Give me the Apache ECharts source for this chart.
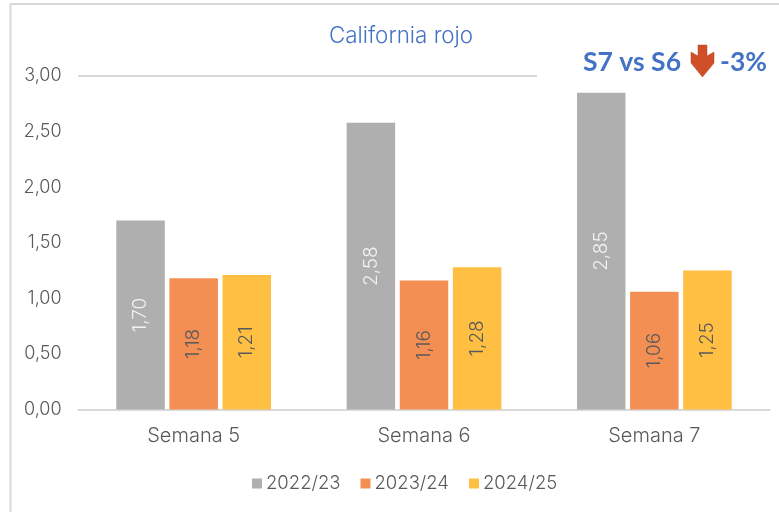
<!DOCTYPE html>
<html><head><meta charset="utf-8">
<style>html,body{margin:0;padding:0;background:#fff}#c{width:779px;height:512px}</style>
<script src="https://cdn.jsdelivr.net/npm/echarts@6/dist/echarts.min.js"></script>
</head><body><div id="c"></div>
<script>
const categories = ['Semana 5','Semana 6','Semana 7'];
const seriesNames = ['2022/23','2023/24','2024/25'];
const values2223 = [1.70,2.58,2.85];
const values2324 = [1.18,1.16,1.06];
const values2425 = [1.21,1.28,1.25];
const colors = ['#afafaf','#f38f53','#ffbf43'];
const labelColors = ['#f2f2f2','#595959','#595959'];
const FONT = 'Inter';
const HEAD = 'Lato';
const fmt = v => v.toFixed(2).replace('.',',');
const chart = echarts.init(document.getElementById('c'),null,{renderer:'canvas'});
const mk = (i,d)=>({
  name:seriesNames[i],type:'bar',data:d,barWidth:48.5,barGap:'9.5%',
  itemStyle:{color:colors[i]},
  label:{show:true,position:'inside',rotate:90,formatter:p=>fmt(p.value),color:labelColors[i],fontSize:19,fontFamily:FONT,fontWeight:300}
});
chart.setOption({
  animation:false,backgroundColor:'#fff',
  grid:{left:78.5,right:9.5,top:76,bottom:102.5,containLabel:false},
  legend:{bottom:14,left:247,itemWidth:10,itemHeight:10,itemGap:20,icon:'rect',
    textStyle:{color:'#595959',fontSize:18.5,fontFamily:FONT,fontWeight:300,padding:[0,0,0,-1]},data:seriesNames},
  xAxis:{type:'category',data:categories,axisTick:{show:false},
    axisLine:{lineStyle:{color:'#d9d9d9',width:2}},
    axisLabel:{color:'#595959',fontSize:20,fontFamily:FONT,fontWeight:300,margin:16}},
  yAxis:{type:'value',min:0,max:3,interval:0.5,axisLine:{show:false},axisTick:{show:false},splitLine:{show:false},
    axisLabel:{formatter:v=>fmt(v),color:'#595959',fontSize:18,fontFamily:FONT,fontWeight:300,margin:17,padding:[1,0,0,0]}},
  series:[mk(0,values2223),mk(1,values2324),mk(2,values2425)],
  graphic:[
    {type:'line',silent:true,shape:{x1:10.5,y1:4,x2:10.5,y2:512},style:{stroke:'#d9d9d9',lineWidth:2}},
    {type:'line',silent:true,shape:{x1:10,y1:4,x2:779,y2:4},style:{stroke:'#d9d9d9',lineWidth:2}},
    {type:'line',silent:true,shape:{x1:78,y1:76,x2:537,y2:76},style:{stroke:'#d9d9d9',lineWidth:2}},
    {type:'text',x:401,y:36,style:{text:'California rojo',fill:'#4472c4',font:'300 22.4px '+FONT,textAlign:'center',textVerticalAlign:'middle'}},
    {type:'text',x:583,y:62,style:{text:'S7 vs S6',fill:'#4472c4',font:'bold 26.5px '+HEAD,textAlign:'left',textVerticalAlign:'middle'}},
    {type:'polygon',silent:true,shape:{points:[[698,45],[707,45],[707,56],[714,52],[714,63],[702.5,77],[691,63],[691,52],[698,56]]},style:{fill:'#cf5028',stroke:'#b8441f',lineWidth:0.5}},
    {type:'text',x:720,y:62,style:{text:'-3%',fill:'#4472c4',font:'bold 26.5px '+HEAD,textAlign:'left',textVerticalAlign:'middle'}}
  ]
});
</script></body></html>
